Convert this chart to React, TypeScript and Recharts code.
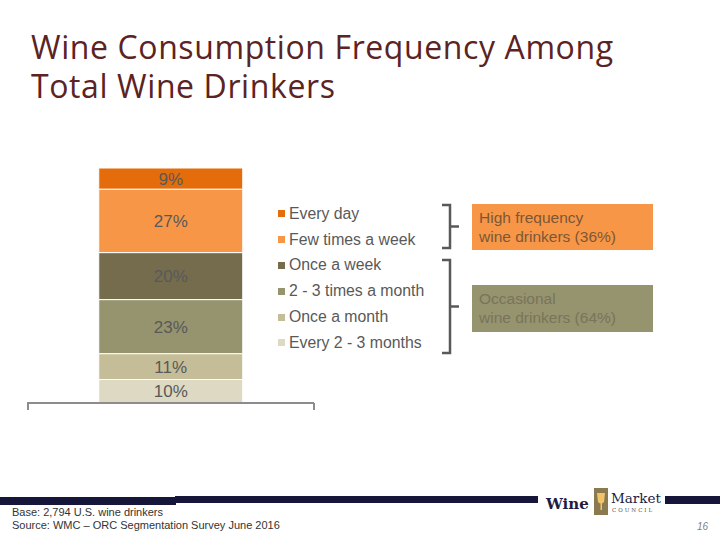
import { BarChart, Bar, XAxis, YAxis, LabelList } from 'recharts';

// stacked from the bottom up
const seriesKeys = ['every23Months', 'onceMonth', 'times23Month', 'onceWeek', 'fewWeek', 'everyDay'];
const seriesNames = ['Every 2 - 3 months', 'Once a month', '2 - 3 times a month', 'Once a week', 'Few times a week', 'Every day'];
const seriesValues = [10, 11, 23, 20, 27, 9];
const seriesColors = ['#ddd9c3', '#c4bd97', '#96936f', '#746c4d', '#f79646', '#e46c0a'];

const groupLabels = ['High frequency\nwine drinkers (36%)', 'Occasional\nwine drinkers (64%)'];
const groupColors = ['#f79646', '#96936f'];
const groupTextColors = ['#7d5636', '#77755a'];

const row: Record<string, string | number> = { name: 'Total' };
seriesKeys.forEach((k, i) => {
  row[k] = seriesValues[i];
});
const data = [row];

const FONT = '"Liberation Sans", Arial, sans-serif';

function LegendList() {
  const items = seriesNames.map((n, i) => ({ name: n, color: seriesColors[i] })).reverse();
  return (
    <div style={{ fontFamily: FONT }}>
      {items.map((it) => (
        <div key={it.name} style={{ height: 25.8, display: 'flex', alignItems: 'center', fontSize: 15.8, color: '#595959' }}>
          <span style={{ width: 7, height: 7, background: it.color, marginRight: 4, display: 'inline-block' }} />
          {it.name}
        </div>
      ))}
    </div>
  );
}

function Bracket({ top, bottom }: { top: number; bottom: number }) {
  const mid = (top + bottom) / 2;
  return (
    <path
      d={`M442 ${top} L450 ${top} L450 ${bottom} L442 ${bottom} M450 ${mid} L459 ${mid}`}
      fill="none"
      stroke="#595959"
      strokeWidth={2.5}
    />
  );
}

export default function App() {
  return (
    <div style={{ position: 'absolute', left: 0, top: 0, width: 720, height: 540, background: '#fff', overflow: 'hidden' }}>
      <div
        style={{
          position: 'absolute',
          left: 31,
          top: 27,
          fontFamily: '"Open Sans", sans-serif',
          fontSize: 32,
          lineHeight: '39px',
          color: '#5b2323',
          letterSpacing: 0.6,
          whiteSpace: 'nowrap',
        }}
      >
        <div>Wine Consumption Frequency Among</div>
        <div>Total Wine Drinkers</div>
      </div>

      <div style={{ position: 'absolute', left: 0, top: 0 }}>
        <BarChart
          width={720}
          height={540}
          data={data}
          margin={{ top: 168, right: 406, left: 27, bottom: 136 }}
          barCategoryGap="25%"
        >
          <XAxis dataKey="name" tick={false} tickLine={false} axisLine={{ stroke: '#8c8c8c', strokeWidth: 2 }} height={1} />
          <YAxis hide domain={[0, 100]} />
          {seriesKeys.map((k, i) => (
            <Bar key={k} dataKey={k} name={seriesNames[i]} stackId="a" fill={seriesColors[i]} stroke="#ffffff" strokeWidth={1} isAnimationActive={false}>
              <LabelList dataKey={k} position="center" formatter={(v: number) => `${v}%`} fill="#595959" fontSize={17} fontFamily={FONT} />
            </Bar>
          ))}
        </BarChart>
      </div>

      <div style={{ position: 'absolute', left: 278, top: 201 }}>
        <LegendList />
      </div>

      <svg width={720} height={540} style={{ position: 'absolute', left: 0, top: 0 }}>
        {/* category axis end ticks */}
        <line x1={28} y1={403} x2={28} y2={410} stroke="#8c8c8c" strokeWidth={2} />
        <line x1={314} y1={403} x2={314} y2={410} stroke="#8c8c8c" strokeWidth={2} />
        <Bracket top={205} bottom={248} />
        <Bracket top={260} bottom={353} />
        {/* footer bars */}
        <rect x={0} y={497} width={176} height={8} fill="#16163a" />
        <rect x={175} y={496} width={363} height={7} fill="#16163a" />
        <rect x={665} y={496} width={55} height={8} fill="#16163a" />
        {/* logo */}
        <text x={546} y={509} fontFamily="'DejaVu Serif', serif" fontWeight="bold" fontSize={15} fill="#1c1c44">Wine</text>
        <rect x={594} y={488} width={14} height={27} fill="#8a7a50" />
        <path d="M597 493 L605 493 L604 502 Q601 505 598 502 Z" fill="#f2c46a" />
        <rect x={600.5} y={503} width={1.5} height={7} fill="#f2c46a" />
        <text x={611} y={503} fontFamily="'DejaVu Serif', serif" fontSize={13.5} fill="#1c1c44">Market</text>
        <text x={612} y={512} fontFamily="'DejaVu Serif', serif" fontSize={5.5} letterSpacing={2} fill="#555">COUNCIL</text>
        <text x={697} y={530} fontFamily={FONT} fontStyle="italic" fontSize={10} fill="#7f7f7f">16</text>
      </svg>

      {groupLabels.map((g, i) => (
        <div
          key={g}
          style={{
            position: 'absolute',
            left: 472,
            top: i === 0 ? 204 : 285,
            width: 181,
            height: i === 0 ? 46 : 47,
            background: groupColors[i],
            color: groupTextColors[i],
            fontFamily: FONT,
            fontSize: 15.5,
            lineHeight: '19px',
            padding: '4px 0 0 7px',
            boxSizing: 'border-box',
            whiteSpace: 'pre-line',
          }}
        >
          {g}
        </div>
      ))}

      <div style={{ position: 'absolute', left: 12, top: 506, fontFamily: FONT, fontSize: 11, lineHeight: '13px', color: '#333' }}>
        Base: 2,794 U.S. wine drinkers
        <br />
        Source: WMC – ORC Segmentation Survey June 2016
      </div>
    </div>
  );
}
